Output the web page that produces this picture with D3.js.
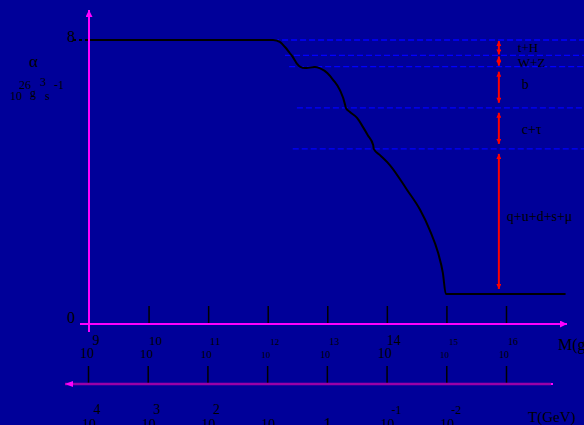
<!DOCTYPE html>
<html><head><meta charset="utf-8">
<script src="https://cdn.jsdelivr.net/npm/d3@7"></script>
<style>
html,body{margin:0;padding:0;background:#000099;overflow:hidden}
svg{display:block}
text{font-family:"Liberation Serif","Times New Roman",serif;fill:#000}
</style>
</head><body>
<svg id="c" width="584" height="425"></svg>
<script>
// ---- data ----
const logM  = [9.00,12.09,12.21,12.29,12.37,12.42,12.49,12.54,12.63,12.71,12.79,12.88,13.00,13.10,13.21,13.30,13.31,13.38,13.50,13.60,13.68,13.77,13.78,13.88,14.05,14.34,14.56,14.72,14.86,14.94,14.99,17.00];
const alpha = [8.00,8.00,7.94,7.80,7.63,7.52,7.33,7.24,7.20,7.22,7.23,7.19,7.06,6.86,6.58,6.15,6.07,5.95,5.78,5.52,5.29,5.01,4.90,4.73,4.44,3.73,3.16,2.59,1.94,1.37,0.77,0.77];
const thresholds = [8.00,7.56,7.24,6.07,4.90,0.77];
const thresholdStartLogM = [12.09,12.29,12.36,12.49,12.42];
const species = ["t+H","W+Z","b","c+τ","q+u+d+s+μ"];
const arrowLogM = 15.88;
const yTicks = [0,8];
const mTicks = [9,10,11,12,13,14,15,16];
const mExp = ["9","10","11","12","13","14","15","16"];
const tTicks = [4,3,2,1,0,-1,-2,-3];
const tBase = ["10","10","10","10","1","10","10",""];
const tExp  = ["4","3","2","","","-1","-2",""];

// ---- styles ----
const mFont = [14,13,11,9,10,14,9,10];
const labelDx = [19,19,23,23,8];
const labelDy = [4.5,6,2,6,0];

const svg = d3.select("#c");
const x = d3.scaleLinear().domain([9,16]).range([89,506]);
const y = d3.scaleLinear().domain([0,8]).range([321,40]);
const xt = d3.scaleLinear().domain([4,-3]).range([88,506]);

const defs = svg.append("defs");
function marker(id, color, w, h){
  defs.append("marker").attr("id",id).attr("viewBox","0 0 10 10").attr("refX",10).attr("refY",5)
    .attr("markerWidth",w).attr("markerHeight",h).attr("markerUnits","userSpaceOnUse").attr("orient","auto-start-reverse")
    .append("path").attr("d","M0,0L10,5L0,10Z").attr("fill",color);
}
marker("mag","#ff00ff",9,7);
marker("red","#ff0000",8,5);

// dashed threshold lines
svg.append("g").selectAll("line").data(thresholds.slice(0,5)).join("line")
  .attr("x1",(d,i)=>x(thresholdStartLogM[i])).attr("x2",584)
  .attr("y1",d=>y(d)).attr("y2",d=>y(d))
  .attr("stroke","#0000ff").attr("stroke-width",1.3).attr("stroke-dasharray","6,3");

// curve
const pts = logM.map((m,i)=>[m,alpha[i]]);
svg.append("path").datum(pts)
  .attr("d",d3.line().x(d=>x(d[0])).y(d=>y(d[1])).curve(d3.curveMonotoneX))
  .attr("fill","none").attr("stroke","#000").attr("stroke-width",2);

// dashed guide left of axis at top value
svg.append("line").attr("x1",73).attr("x2",89).attr("y1",y(8)).attr("y2",y(8))
  .attr("stroke","#000").attr("stroke-width",2).attr("stroke-dasharray","3,3");

// red double arrows and labels
const ax = x(arrowLogM);
species.forEach((s,i)=>{
  const y0 = y(thresholds[i]), y1 = y(thresholds[i+1]);
  const inset = (y1-y0) > 20 ? 5 : 1;
  svg.append("line").attr("x1",ax).attr("x2",ax).attr("y1",y0+inset).attr("y2",y1-inset)
    .attr("stroke","#ff0000").attr("stroke-width",2)
    .attr("marker-start","url(#red)").attr("marker-end","url(#red)");
  svg.append("text").attr("x",ax+labelDx[i]).attr("y",(y0+y1)/2+labelDy[i])
    .attr("font-size",i<2?13:14).text(s);
});

// M axis ticks (upward)
const mAxis = svg.append("g").attr("transform","translate(0,324)")
  .call(d3.axisTop(x).tickValues(mTicks.slice(1)).tickSize(18).tickFormat(""));
mAxis.select(".domain").remove();
mAxis.selectAll(".tick line").attr("stroke","#000").attr("stroke-width",1.5);

// M tick labels
mTicks.forEach((m,i)=>{
  svg.append("text").attr("x",x(m)-2).attr("y",358).attr("text-anchor","middle").attr("font-size",mFont[i]).text("10");
  svg.append("text").attr("x",x(m)+7).attr("y",345).attr("text-anchor","middle").attr("font-size",mFont[i]).text(mExp[i]);
});

// M axis line + y axis line (magenta)
svg.append("line").attr("x1",80).attr("x2",567).attr("y1",324).attr("y2",324)
  .attr("stroke","#ff00ff").attr("stroke-width",2).attr("marker-end","url(#mag)");
svg.append("line").attr("x1",89).attr("x2",89).attr("y1",332).attr("y2",10)
  .attr("stroke","#ff00ff").attr("stroke-width",2).attr("marker-end","url(#mag)");

// y tick labels
const yAxis = svg.append("g").attr("transform","translate(89,0)")
  .call(d3.axisLeft(y).tickValues(yTicks).tickSize(0).tickPadding(14).tickFormat(d3.format("d")));
yAxis.select(".domain").remove();
yAxis.selectAll("text").attr("font-size",16).attr("dy","0.12em").attr("fill","#000")
  .attr("font-family","Liberation Serif, serif");

// T axis
const tAxis = svg.append("g").attr("transform","translate(0,383)")
  .call(d3.axisTop(xt).tickValues(tTicks).tickSize(17).tickFormat(""));
tAxis.select(".domain").remove();
tAxis.selectAll(".tick line").attr("stroke","#000").attr("stroke-width",1.5);
svg.append("line").attr("x1",551).attr("x2",65).attr("y1",384).attr("y2",384)
  .attr("stroke","#9900a8").attr("stroke-width",2.5);
svg.append("path").attr("d","M65,384L73,381L73,387Z").attr("fill","#ff00ff");
svg.append("rect").attr("x",551).attr("y",383).attr("width",2).attr("height",2).attr("fill","#ff00ff");

tTicks.forEach((t,i)=>{
  if(tBase[i]) svg.append("text").attr("x",xt(t)+1).attr("y",tBase[i]==="1"?431:429)
    .attr("text-anchor","middle").attr("font-size",tBase[i]==="1"?18:14).text(tBase[i]);
  if(tExp[i]) svg.append("text").attr("x",xt(t)+(tExp[i].length>1?10:9)).attr("y",414)
    .attr("text-anchor","middle").attr("font-size",tExp[i].length>1?12:14).text(tExp[i]);
});

// axis titles
svg.append("text").attr("x",558).attr("y",350).attr("font-size",16).text("M(g)");
svg.append("text").attr("x",528).attr("y",422).attr("font-size",15).text("T(GeV)");

// y units label
svg.append("text").attr("x",29).attr("y",67).attr("font-size",17).text("α");
svg.append("text").attr("x",19).attr("y",89).attr("font-size",12).text("26");
svg.append("text").attr("x",40).attr("y",86).attr("font-size",12).text("3");
svg.append("text").attr("x",54).attr("y",89).attr("font-size",12).text("-1");
svg.append("text").attr("x",10).attr("y",100).attr("font-size",12).text("10");
svg.append("text").attr("x",30).attr("y",97).attr("font-size",12).text("g");
svg.append("text").attr("x",45).attr("y",100).attr("font-size",12).text("s");
</script>
</body></html>
